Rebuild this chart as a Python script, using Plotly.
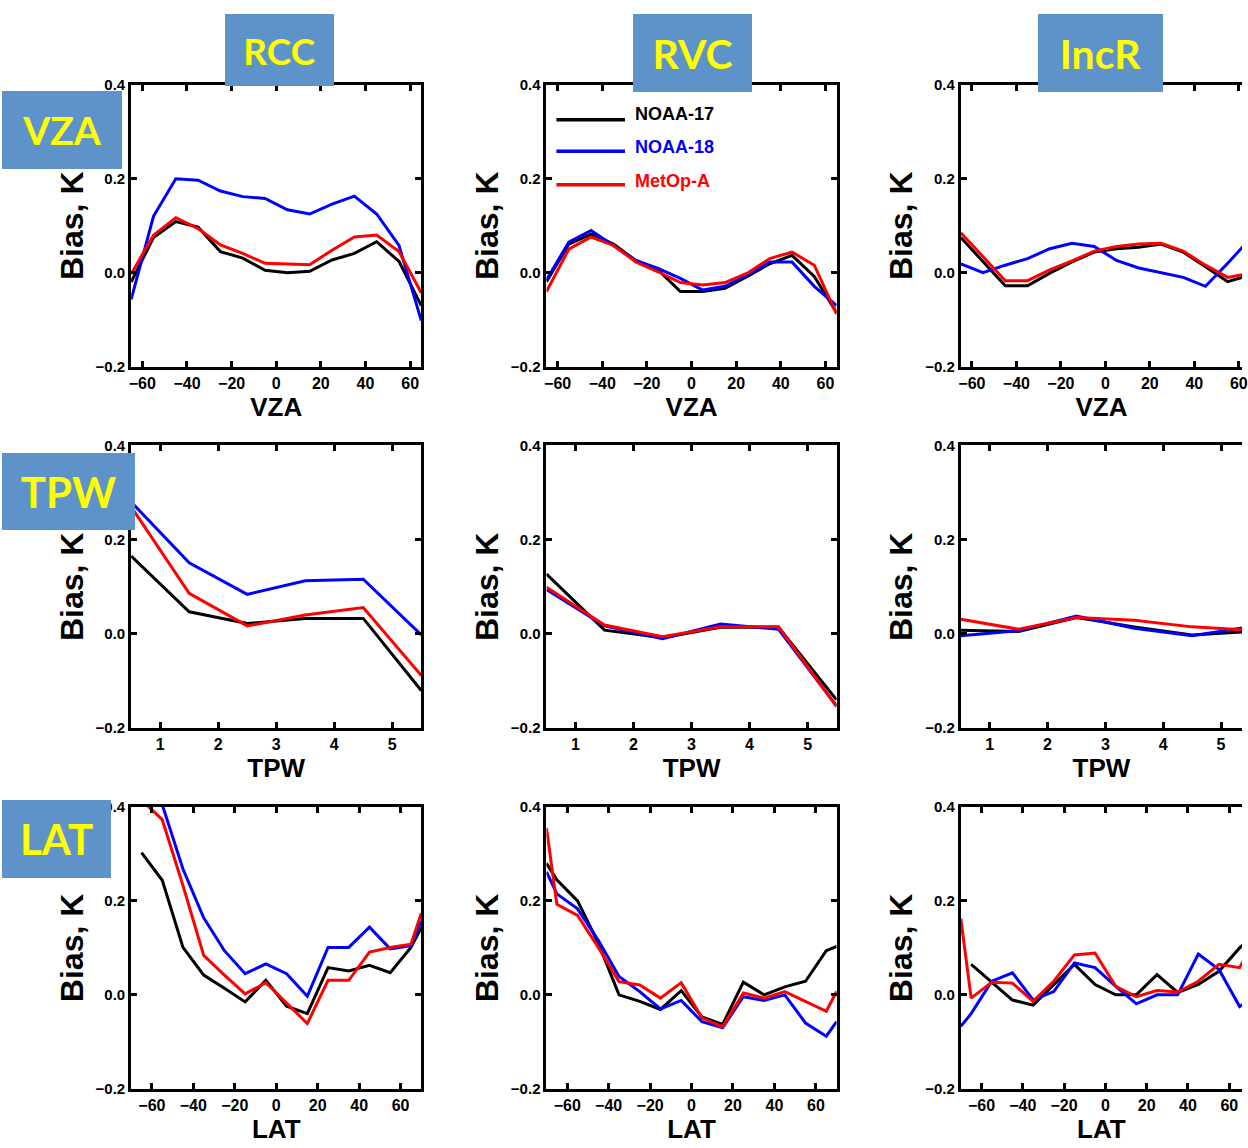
import plotly.graph_objects as go

# ---------------- data ----------------
VZA = [-65, -55, -45, -35, -25, -15, -5, 5, 15, 25, 35, 45, 55, 65]
TPW = [0.5, 1.5, 2.5, 3.5, 4.5, 5.5]
LAT = [-70, -65, -55, -45, -35, -25, -15, -5, 5, 15, 25, 35, 45, 55, 65, 70]

SATELLITES = ["NOAA-17", "NOAA-18", "MetOp-A"]
SAT_COLORS = ["#000000", "#0000FF", "#FF0000"]

COLUMNS = ["RCC", "RVC", "IncR"]
ROWS = ["VZA", "TPW", "LAT"]

Y_TICKS = [-0.2, 0.0, 0.2, 0.4]
X_TICKS_ANGLE = [-60, -40, -20, 0, 20, 40, 60]
X_TICKS_TPW = [1, 2, 3, 4, 5]

# RCC vs VZA
rcc_vza_n17 = [-0.02, 0.075, 0.109, 0.097, 0.045, 0.031, 0.005, 0.0, 0.003, 0.027, 0.041, 0.066, 0.024, -0.07]
rcc_vza_n18 = [-0.057, 0.12, 0.20, 0.197, 0.174, 0.162, 0.158, 0.134, 0.125, 0.146, 0.163, 0.125, 0.058, -0.102]
rcc_vza_mta = [-0.003, 0.08, 0.117, 0.094, 0.059, 0.041, 0.02, 0.018, 0.017, 0.048, 0.076, 0.08, 0.045, -0.043]
# RVC vs VZA
rvc_vza_n17 = [-0.019, 0.061, 0.082, 0.061, 0.026, 0.006, -0.04, -0.04, -0.033, -0.008, 0.019, 0.037, -0.008, -0.085]
rvc_vza_n18 = [-0.015, 0.065, 0.09, 0.058, 0.026, 0.009, -0.012, -0.037, -0.029, -0.005, 0.023, 0.023, -0.029, -0.07]
rvc_vza_mta = [-0.04, 0.05, 0.076, 0.058, 0.023, 0.002, -0.021, -0.026, -0.021, -0.001, 0.03, 0.044, 0.016, -0.088]
# IncR vs VZA
inc_vza_n17 = [0.075, 0.023, -0.028, -0.028, -0.001, 0.023, 0.044, 0.051, 0.054, 0.061, 0.044, 0.0125, -0.019, -0.005]
inc_vza_n18 = [0.019, 0.0, 0.016, 0.03, 0.051, 0.0625, 0.056, 0.026, 0.01, 0.0, -0.01, -0.029, 0.02, 0.072]
inc_vza_mta = [0.085, 0.033, -0.017, -0.017, 0.006, 0.025, 0.046, 0.056, 0.061, 0.0625, 0.046, 0.016, -0.01, -0.001]

# RCC vs TPW
rcc_tpw_n17 = [0.165, 0.047, 0.022, 0.033, 0.033, -0.12]
rcc_tpw_n18 = [0.28, 0.151, 0.084, 0.113, 0.116, -0.002]
rcc_tpw_mta = [0.27, 0.086, 0.017, 0.04, 0.056, -0.088]
# RVC vs TPW
rvc_tpw_n17 = [0.127, 0.008, -0.008, 0.014, 0.014, -0.14]
rvc_tpw_n18 = [0.094, 0.017, -0.01, 0.021, 0.01, -0.153]
rvc_tpw_mta = [0.099, 0.019, -0.006, 0.015, 0.015, -0.154]
# IncR vs TPW
inc_tpw_n17 = [0.008, 0.005, 0.035, 0.015, -0.002, 0.005]
inc_tpw_n18 = [-0.004, 0.007, 0.038, 0.012, -0.004, 0.015]
inc_tpw_mta = [0.031, 0.01, 0.035, 0.029, 0.015, 0.008]

# RCC vs LAT
rcc_lat_n17 = [None, 0.303, 0.244, 0.101, 0.042, 0.014, -0.015, 0.031, -0.024, -0.04, 0.058, 0.051, 0.063, 0.047, 0.101, 0.143]
rcc_lat_n18 = [None, 0.48, 0.405, 0.268, 0.164, 0.094, 0.045, 0.066, 0.045, -0.003, 0.101, 0.101, 0.144, 0.098, 0.105, 0.157]
rcc_lat_mta = [None, 0.415, 0.373, 0.233, 0.084, 0.042, 0.002, 0.026, -0.017, -0.061, 0.031, 0.031, 0.091, 0.101, 0.108, 0.174]
# RVC vs LAT
rvc_lat_n17 = [0.28, 0.245, 0.20, 0.11, 0.0, -0.014, -0.031, 0.009, -0.047, -0.063, 0.027, 0.0, 0.017, 0.029, 0.094, 0.103]
rvc_lat_n18 = [0.262, 0.215, 0.183, 0.116, 0.039, 0.007, -0.03, -0.012, -0.057, -0.07, -0.004, -0.012, 0.0, -0.06, -0.088, -0.057]
rvc_lat_mta = [0.355, 0.193, 0.169, 0.101, 0.028, 0.021, -0.007, 0.026, -0.049, -0.068, 0.004, -0.007, 0.007, -0.014, -0.035, 0.007]
# IncR vs LAT
inc_lat_n17 = [None, 0.065, 0.027, -0.011, -0.022, 0.022, 0.065, 0.022, 0.0, 0.0, 0.043, 0.005, 0.022, 0.05, 0.1, 0.12]
inc_lat_n18 = [-0.067, -0.04, 0.029, 0.047, -0.011, 0.007, 0.068, 0.058, 0.018, -0.019, 0.0, 0.0, 0.087, 0.054, -0.025, -0.01]
inc_lat_mta = [0.162, -0.007, 0.027, 0.025, -0.014, 0.029, 0.085, 0.089, 0.018, -0.004, 0.009, 0.006, 0.029, 0.065, 0.058, 0.097]

PANELS = [
    [(VZA, [rcc_vza_n17, rcc_vza_n18, rcc_vza_mta]),
     (VZA, [rvc_vza_n17, rvc_vza_n18, rvc_vza_mta]),
     (VZA, [inc_vza_n17, inc_vza_n18, inc_vza_mta])],
    [(TPW, [rcc_tpw_n17, rcc_tpw_n18, rcc_tpw_mta]),
     (TPW, [rvc_tpw_n17, rvc_tpw_n18, rvc_tpw_mta]),
     (TPW, [inc_tpw_n17, inc_tpw_n18, inc_tpw_mta])],
    [(LAT, [rcc_lat_n17, rcc_lat_n18, rcc_lat_mta]),
     (LAT, [rvc_lat_n17, rvc_lat_n18, rvc_lat_mta]),
     (LAT, [inc_lat_n17, inc_lat_n18, inc_lat_mta])],
]
X_RANGES = [[-65, 65], [0.5, 5.5], [-70, 70]]
X_TICKVALS = [X_TICKS_ANGLE, X_TICKS_TPW, X_TICKS_ANGLE]

# ---------------- layout geometry (pixels) ----------------
W, H = 1248, 1148
COL_PX = [(130, 422), (548, 840), (965, 1256)]
ROW_PX = [(77, 363), (443, 730), (810, 1096)]

AX_FONT = dict(family="Liberation Sans, Arial, sans-serif", color="black", weight="bold")

fig = go.Figure()
layout = {}
for r in range(3):
    for c in range(3):
        idx = r * 3 + c + 1
        xs = "" if idx == 1 else str(idx)
        L, R = COL_PX[c]
        T, B = ROW_PX[r]
        x0, x1 = X_RANGES[r]
        Rv = min(R, W)
        x1v = x0 + (Rv - L) / (R - L) * (x1 - x0)
        xgrid, ydata = PANELS[r][c]
        for s in range(3):
            fig.add_trace(go.Scatter(
                x=xgrid, y=ydata[s], mode="lines", name=SATELLITES[s],
                line=dict(color=SAT_COLORS[s], width=3),
                xaxis="x" + xs, yaxis="y" + xs, showlegend=False,
                connectgaps=False, cliponaxis=True))
        layout["xaxis" + xs] = dict(
            domain=[L / W, Rv / W], range=[x0, x1v], anchor="y" + xs,
            tickvals=X_TICKVALS[r], ticks="inside", ticklen=6, tickwidth=2.5,
            tickcolor="black", showline=True, linewidth=3, linecolor="black",
            mirror="ticks", showgrid=False, zeroline=False,
            ticklabeloverflow="allow",
            tickfont=dict(size=16, **AX_FONT),
            title=dict(text=ROWS[r], font=dict(size=26, **AX_FONT), standoff=3),
        )
        layout["yaxis" + xs] = dict(
            domain=[1 - B / H, 1 - T / H], range=[-0.2, 0.4], anchor="x" + xs,
            tickvals=Y_TICKS, tickformat=".1f", ticks="inside", ticklen=6,
            tickwidth=2.5, tickcolor="black", showline=True, linewidth=3,
            linecolor="black", mirror=("ticks" if c < 2 else False),
            showgrid=False, zeroline=False,
            tickfont=dict(size=15, **AX_FONT),
            title=dict(text="Bias, K", font=dict(size=32, **AX_FONT), standoff=3),
        )

# ---------------- labels (blue boxes) ----------------
BOX_COLOR = "#5D93C9"
BOXES = [
    ("RCC", 224, 5, 109, 72, 37),
    ("RVC", 635, 5, 119, 78, 41),
    ("IncR", 1043, 5, 125, 78, 41),
    ("VZA", 0, 83, 120, 78, 39),
    ("TPW", 0, 451, 133, 77, 42),
    ("LAT", 0, 803, 109, 78, 42),
]
annotations = []
for text, bx, by, bw, bh, fs in BOXES:
    annotations.append(dict(
        text=text, xref="paper", yref="paper", x=bx / W, y=1 - by / H,
        xanchor="left", yanchor="top", width=bw, height=bh, showarrow=False,
        bgcolor=BOX_COLOR, borderpad=0, borderwidth=0, align="center", valign="middle",
        font=dict(family="Lato, Open Sans, sans-serif", size=fs, color="#FFFF00", weight="bold"),
    ))

# ---------------- legend (in RVC/VZA panel) ----------------
LEG_LINE_X = (558, 627)
LEG_TEXT_X = 635
LEG_TEXT_Y = [107, 140, 175]
LEG_LINE_Y = [112.5, 144.5, 178.5]
shapes = []
for s in range(3):
    shapes.append(dict(type="line", xref="paper", yref="paper",
                       x0=LEG_LINE_X[0] / W, x1=LEG_LINE_X[1] / W,
                       y0=1 - LEG_LINE_Y[s] / H, y1=1 - LEG_LINE_Y[s] / H,
                       line=dict(color=SAT_COLORS[s], width=3.5)))
    annotations.append(dict(
        text=SATELLITES[s], xref="paper", yref="paper", x=LEG_TEXT_X / W,
        y=1 - LEG_TEXT_Y[s] / H, xanchor="left", yanchor="middle", showarrow=False,
        font=dict(size=18, color=SAT_COLORS[s], family="Liberation Sans, Arial, sans-serif", weight="bold"),
    ))

fig.update_layout(
    width=W, height=H, margin=dict(l=0, r=0, t=0, b=0),
    paper_bgcolor="white", plot_bgcolor="white", showlegend=False,
    annotations=annotations, shapes=shapes, **layout,
)
fig.write_html("out.html")
